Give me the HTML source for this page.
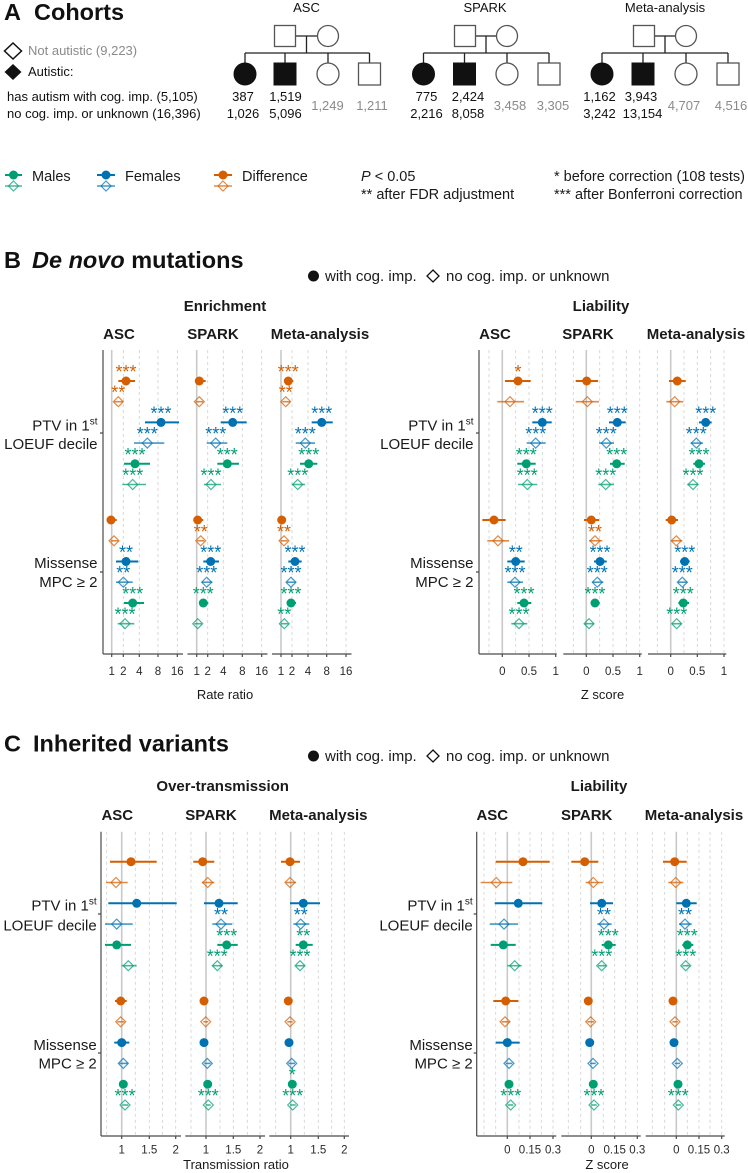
<!DOCTYPE html>
<html><head><meta charset="utf-8">
<style>
html,body{margin:0;padding:0;background:#fff;width:748px;height:1173px;overflow:hidden}
svg{display:block;font-family:"Liberation Sans",Arial,sans-serif}
.g0{stroke:#c9c9c9;stroke-width:1.6;fill:none}
.gd{stroke:#cfcfcf;stroke-width:.8;stroke-dasharray:3 3;fill:none}
.ax{stroke:#4a4a4a;stroke-width:1.2;fill:none}
.tk{font-size:11.5px;fill:#2a2a2a;text-anchor:middle}
.d{stroke:#D55E00;fill:#D55E00}
.f{stroke:#0072B2;fill:#0072B2}
.m{stroke:#009E73;fill:#009E73}
line{stroke-width:2}
circle{stroke-width:0}
.o line{stroke-width:1.6;opacity:.72}
.o path{fill:none;stroke-width:1.2;opacity:.72}
.s{font-size:18px;text-anchor:middle;stroke:none;transform:translateY(-5px)}
.ped{stroke:#222;stroke-width:1.3;fill:none}
.pedo{stroke:#555;stroke-width:1.3;fill:#fff}
.pedf{fill:#111;stroke:#111;stroke-width:1}
.num{font-size:13px;fill:#111;text-anchor:middle}
.gnum{font-size:13px;fill:#8a8a8a;text-anchor:middle}
.ttl{font-size:23.5px;font-weight:bold;fill:#111}
.hd{font-size:15px;font-weight:bold;fill:#1a1a1a;text-anchor:middle}
.yl{font-size:15px;fill:#1a1a1a;text-anchor:end}
.axt{font-size:13px;fill:#1a1a1a;text-anchor:middle}
.lg{font-size:14.5px;fill:#1a1a1a}
.lg15{font-size:15px;fill:#1a1a1a}
</style></head>
<body>
<svg width="748" height="1173" viewBox="0 0 748 1173" xmlns="http://www.w3.org/2000/svg">

<!-- ===== A: Cohorts ===== -->
<text class="ttl" x="4" y="20">A</text>
<text class="ttl" x="34" y="20">Cohorts</text>

<path d="M13 43l8.5 8-8.5 8-8.5-8z" fill="#fff" stroke="#111" stroke-width="1.5"/>
<text x="28" y="55" font-size="13px" fill="#8a8a8a">Not autistic (9,223)</text>
<path d="M13 64l8.5 8-8.5 8-8.5-8z" fill="#111"/>
<text x="28" y="76" font-size="13px" fill="#111">Autistic:</text>
<text x="7" y="101" font-size="13px" fill="#111">has autism with cog. imp. (5,105)</text>
<text x="7" y="118" font-size="13px" fill="#111">no cog. imp. or unknown (16,396)</text>

<!-- ASC pedigree -->
<text x="306.5" y="12" font-size="13px" fill="#111" text-anchor="middle">ASC</text>
<path class="ped" d="M296 36H317.5M306.5 36V53M245 53H369.5M245 53V63M285 53V63M328 53V63M369.5 53V63"/>
<rect class="pedo" x="274.5" y="25.5" width="21" height="21"/>
<circle class="pedo" cx="328" cy="36" r="10.5" style="stroke-width:1.3"/>
<circle class="pedf" cx="245" cy="74" r="11"/>
<rect class="pedf" x="274" y="63" width="22" height="22"/>
<circle class="pedo" cx="328" cy="74" r="11" style="stroke-width:1.3"/>
<rect class="pedo" x="358.5" y="63" width="22" height="22"/>
<text class="num" x="243" y="101">387</text>
<text class="num" x="285.5" y="101">1,519</text>
<text class="num" x="243" y="118">1,026</text>
<text class="num" x="285.5" y="118">5,096</text>
<text class="gnum" x="327.5" y="110">1,249</text>
<text class="gnum" x="372" y="110">1,211</text>

<!-- SPARK pedigree -->
<text x="485" y="12" font-size="13px" fill="#111" text-anchor="middle">SPARK</text>
<path class="ped" d="M475.5 36H496.5M486 36V53M423.5 53H549M423.5 53V63M464.5 53V63M507 53V63M549 53V63"/>
<rect class="pedo" x="454.5" y="25.5" width="21" height="21"/>
<circle class="pedo" cx="507" cy="36" r="10.5" style="stroke-width:1.3"/>
<circle class="pedf" cx="423.5" cy="74" r="11"/>
<rect class="pedf" x="453.5" y="63" width="22" height="22"/>
<circle class="pedo" cx="507" cy="74" r="11" style="stroke-width:1.3"/>
<rect class="pedo" x="538" y="63" width="22" height="22"/>
<text class="num" x="426.5" y="101">775</text>
<text class="num" x="468" y="101">2,424</text>
<text class="num" x="426.5" y="118">2,216</text>
<text class="num" x="468" y="118">8,058</text>
<text class="gnum" x="510" y="110">3,458</text>
<text class="gnum" x="553" y="110">3,305</text>

<!-- Meta pedigree -->
<text x="665" y="12" font-size="13px" fill="#111" text-anchor="middle">Meta-analysis</text>
<path class="ped" d="M654.5 36H675.5M665 36V53M602 53H728M602 53V63M643 53V63M686 53V63M728 53V63"/>
<rect class="pedo" x="633.5" y="25.5" width="21" height="21"/>
<circle class="pedo" cx="686" cy="36" r="10.5" style="stroke-width:1.3"/>
<circle class="pedf" cx="602" cy="74" r="11"/>
<rect class="pedf" x="632" y="63" width="22" height="22"/>
<circle class="pedo" cx="686" cy="74" r="11" style="stroke-width:1.3"/>
<rect class="pedo" x="717" y="63" width="22" height="22"/>
<text class="num" x="599.5" y="101">1,162</text>
<text class="num" x="641" y="101">3,943</text>
<text class="num" x="599.5" y="118">3,242</text>
<text class="num" x="642.5" y="118">13,154</text>
<text class="gnum" x="684" y="110">4,707</text>
<text class="gnum" x="731" y="110">4,516</text>

<!-- Legend row -->
<g class="m"><line x1="5" x2="22" y1="175" y2="175"/><circle cx="13.5" cy="175" r="4.5"/></g>
<g class="m o"><line x1="5" x2="22" y1="186" y2="186"/><path d="M13.5 181l5 5-5 5-5-5z"/></g>
<text class="lg" x="32" y="181">Males</text>
<g class="f"><line x1="97" x2="115" y1="175" y2="175"/><circle cx="106" cy="175" r="4.5"/></g>
<g class="f o"><line x1="97" x2="115" y1="186" y2="186"/><path d="M106 181l5 5-5 5-5-5z"/></g>
<text class="lg" x="125" y="181">Females</text>
<g class="d"><line x1="214" x2="232" y1="175" y2="175"/><circle cx="223" cy="175" r="4.5"/></g>
<g class="d o"><line x1="214" x2="232" y1="186" y2="186"/><path d="M223 181l5 5-5 5-5-5z"/></g>
<text class="lg" x="242" y="181">Difference</text>

<text class="lg" x="361" y="181"><tspan font-style="italic">P</tspan> &lt; 0.05</text>
<text class="lg" x="361" y="199">** after FDR adjustment</text>
<text class="lg" x="554" y="181">* before correction (108 tests)</text>
<text class="lg" x="554" y="199">*** after Bonferroni correction</text>

<!-- ===== B: De novo ===== -->
<text class="ttl" x="4" y="268">B</text>
<text class="ttl" x="32" y="268"><tspan font-style="italic">De novo</tspan> mutations</text>
<circle cx="313.5" cy="276" r="5.5" fill="#111"/>
<text class="lg15" x="325" y="281">with cog. imp.</text>
<path d="M433 270l6 6-6 6-6-6z" fill="none" stroke="#111" stroke-width="1.3"/>
<text class="lg15" x="446" y="281">no cog. imp. or unknown</text>

<text class="hd" x="225" y="311">Enrichment</text>
<text class="hd" x="601" y="311">Liability</text>
<text class="hd" x="119" y="339">ASC</text>
<text class="hd" x="213" y="339">SPARK</text>
<text class="hd" x="320" y="339">Meta-analysis</text>
<text class="hd" x="495" y="339">ASC</text>
<text class="hd" x="588" y="339">SPARK</text>
<text class="hd" x="696" y="339">Meta-analysis</text>

<!-- B left grid -->
<path class="g0" d="M111.7 350V654M196.7 350V654M281 350V654"/>
<path class="gd" d="M123.3 350V654M139.3 350V654M158 350V654M177.3 350V654M207.7 350V654M223.3 350V654M242.3 350V654M261.7 350V654M292 350V654M308 350V654M326.7 350V654M346 350V654"/>
<path class="ax" d="M103 350V654M103 654H183M187.5 654H267.5M272 654H351.5M100 433H103M100 572H103M111.7 654v3M123.3 654v3M139.3 654v3M158 654v3M177.3 654v3M196.7 654v3M207.7 654v3M223.3 654v3M242.3 654v3M261.7 654v3M281 654v3M292 654v3M308 654v3M326.7 654v3M346 654v3"/>
<g class="tk">
<text x="111.7" y="675">1</text><text x="123.3" y="675">2</text><text x="139.3" y="675">4</text><text x="158" y="675">8</text><text x="177.3" y="675">16</text>
<text x="196.7" y="675">1</text><text x="207.7" y="675">2</text><text x="223.3" y="675">4</text><text x="242.3" y="675">8</text><text x="261.7" y="675">16</text>
<text x="281" y="675">1</text><text x="292" y="675">2</text><text x="308" y="675">4</text><text x="326.7" y="675">8</text><text x="346" y="675">16</text>
</g>
<text class="axt" x="225" y="699">Rate ratio</text>
<text class="yl" x="97.5" y="430.7">PTV in 1<tspan font-size="10px" dy="-6">st</tspan></text>
<text class="yl" x="97.5" y="449">LOEUF decile</text>
<text class="yl" x="97.5" y="568">Missense</text>
<text class="yl" x="97.5" y="587">MPC ≥ 2</text>

<!-- B left data -->
<g transform="translate(0,381)" class="d"><line x1="118.3" x2="135"/><circle cx="126" r="4.5"/><text class="s" x="126" y="2">***</text><line x1="195" x2="205.7"/><circle cx="199.3" r="4.5"/><line x1="284.3" x2="293.3"/><circle cx="288.3" r="4.5"/><text class="s" x="288.3" y="2">***</text></g>
<g transform="translate(0,401.7)" class="d o"><line x1="114.3" x2="123.3"/><path d="M118.3 -5l5 5-5 5-5-5z"/><text class="s" x="118.3" y="2">**</text><line x1="195.7" x2="203.3"/><path d="M199.3 -5l5 5-5 5-5-5z"/><line x1="282.3" x2="290"/><path d="M285.7 -5l5 5-5 5-5-5z"/><text class="s" x="285.7" y="2">**</text></g>
<g transform="translate(0,422.4)" class="f"><line x1="145" x2="179"/><circle cx="161" r="4.5"/><text class="s" x="161" y="2">***</text><line x1="220.7" x2="246.7"/><circle cx="232.7" r="4.5"/><text class="s" x="232.7" y="2">***</text><line x1="311.7" x2="332.7"/><circle cx="321.7" r="4.5"/><text class="s" x="321.7" y="2">***</text></g>
<g transform="translate(0,443.1)" class="f o"><line x1="134" x2="164.3"/><path d="M147.3 -5l5 5-5 5-5-5z"/><text class="s" x="147.3" y="2">***</text><line x1="206.7" x2="227.3"/><path d="M215.7 -5l5 5-5 5-5-5z"/><text class="s" x="215.7" y="2">***</text><line x1="295.7" x2="315"/><path d="M305.3 -5l5 5-5 5-5-5z"/><text class="s" x="305.3" y="2">***</text></g>
<g transform="translate(0,463.8)" class="m"><line x1="124" x2="150"/><circle cx="135" r="4.5"/><text class="s" x="135" y="2">***</text><line x1="217.3" x2="239"/><circle cx="227.3" r="4.5"/><text class="s" x="227.3" y="2">***</text><line x1="300" x2="317.3"/><circle cx="308.7" r="4.5"/><text class="s" x="308.7" y="2">***</text></g>
<g transform="translate(0,484.5)" class="m o"><line x1="122.3" x2="146"/><path d="M132.7 -5l5 5-5 5-5-5z"/><text class="s" x="132.7" y="2">***</text><line x1="204" x2="221"/><path d="M211 -5l5 5-5 5-5-5z"/><text class="s" x="211" y="2">***</text><line x1="291.7" x2="305"/><path d="M297.7 -5l5 5-5 5-5-5z"/><text class="s" x="297.7" y="2">***</text></g>

<g transform="translate(0,520)" class="d"><line x1="106.7" x2="116.7"/><circle cx="111" r="4.5"/><line x1="194" x2="203.3"/><circle cx="197.7" r="4.5"/><line x1="278.3" x2="285"/><circle cx="281.7" r="4.5"/></g>
<g transform="translate(0,540.8)" class="d o"><line x1="110.7" x2="118.3"/><path d="M114 -5l5 5-5 5-5-5z"/><line x1="197.3" x2="204.3"/><path d="M200.7 -5l5 5-5 5-5-5z"/><text class="s" x="200.7" y="2">**</text><line x1="280.7" x2="287.7"/><path d="M284 -5l5 5-5 5-5-5z"/><text class="s" x="284" y="2">**</text></g>
<g transform="translate(0,561.5)" class="f"><line x1="116" x2="138.3"/><circle cx="126" r="4.5"/><text class="s" x="126" y="2">**</text><line x1="203.3" x2="219"/><circle cx="210.7" r="4.5"/><text class="s" x="210.7" y="2">***</text><line x1="288.3" x2="301.7"/><circle cx="295" r="4.5"/><text class="s" x="295" y="2">***</text></g>
<g transform="translate(0,582.2)" class="f o"><line x1="116" x2="132.7"/><path d="M123.3 -5l5 5-5 5-5-5z"/><text class="s" x="123.3" y="2">**</text><line x1="201.7" x2="212.3"/><path d="M206.7 -5l5 5-5 5-5-5z"/><text class="s" x="206.7" y="2">***</text><line x1="286.7" x2="295.7"/><path d="M291 -5l5 5-5 5-5-5z"/><text class="s" x="291" y="2">***</text></g>
<g transform="translate(0,603)" class="m"><line x1="124" x2="144"/><circle cx="132.7" r="4.5"/><text class="s" x="132.7" y="2">***</text><line x1="199.3" x2="208.3"/><circle cx="203.3" r="4.5"/><text class="s" x="203.3" y="2">***</text><line x1="286.7" x2="296"/><circle cx="291" r="4.5"/><text class="s" x="291" y="2">***</text></g>
<g transform="translate(0,623.7)" class="m o"><line x1="117.7" x2="134.3"/><path d="M125 -5l5 5-5 5-5-5z"/><text class="s" x="125" y="2">***</text><line x1="194.3" x2="201.7"/><path d="M197.7 -5l5 5-5 5-5-5z"/><line x1="281" x2="288.3"/><path d="M284.3 -5l5 5-5 5-5-5z"/><text class="s" x="284.3" y="2">**</text></g>

<!-- B right grid -->
<path class="g0" d="M502.3 350V654M586.3 350V654M670.7 350V654"/>
<path class="gd" d="M489 350V654M515.7 350V654M529 350V654M542.3 350V654M555.7 350V654M573.3 350V654M599.7 350V654M613 350V654M626.3 350V654M639.7 350V654M657.3 350V654M684 350V654M697.3 350V654M710.7 350V654M724 350V654"/>
<path class="ax" d="M479 350V654M479 654H556.7M563.3 654H641.7M648 654H726.3M476 433H479M476 572H479M502.3 654v3M529 654v3M555.7 654v3M586.3 654v3M613 654v3M639.7 654v3M670.7 654v3M697.3 654v3M724 654v3"/>
<g class="tk">
<text x="502.3" y="675">0</text><text x="529" y="675">0.5</text><text x="555.7" y="675">1</text>
<text x="586.3" y="675">0</text><text x="613" y="675">0.5</text><text x="639.7" y="675">1</text>
<text x="670.7" y="675">0</text><text x="697.3" y="675">0.5</text><text x="724" y="675">1</text>
</g>
<text class="axt" x="602.5" y="699">Z score</text>
<text class="yl" x="473.5" y="430.7">PTV in 1<tspan font-size="10px" dy="-6">st</tspan></text>
<text class="yl" x="473.5" y="449">LOEUF decile</text>
<text class="yl" x="473.5" y="568">Missense</text>
<text class="yl" x="473.5" y="587">MPC ≥ 2</text>

<!-- B right data -->
<g transform="translate(0,381)" class="d"><line x1="505" x2="530.7"/><circle cx="518" r="4.5"/><text class="s" x="518" y="2">*</text><line x1="575.7" x2="598"/><circle cx="586.7" r="4.5"/><line x1="669" x2="685.7"/><circle cx="677.3" r="4.5"/></g>
<g transform="translate(0,401.7)" class="d o"><line x1="497.3" x2="524"/><path d="M510 -5l5 5-5 5-5-5z"/><line x1="575.7" x2="599"/><path d="M587.3 -5l5 5-5 5-5-5z"/><line x1="666.3" x2="683.3"/><path d="M674.7 -5l5 5-5 5-5-5z"/></g>
<g transform="translate(0,422.4)" class="f"><line x1="532.3" x2="551.7"/><circle cx="542.3" r="4.5"/><text class="s" x="542.3" y="2">***</text><line x1="609" x2="625.7"/><circle cx="617.3" r="4.5"/><text class="s" x="617.3" y="2">***</text><line x1="699" x2="711.7"/><circle cx="705.7" r="4.5"/><text class="s" x="705.7" y="2">***</text></g>
<g transform="translate(0,443.1)" class="f o"><line x1="526.7" x2="545.7"/><path d="M535.7 -5l5 5-5 5-5-5z"/><text class="s" x="535.7" y="2">***</text><line x1="599" x2="614"/><path d="M606.3 -5l5 5-5 5-5-5z"/><text class="s" x="606.3" y="2">***</text><line x1="690.7" x2="703"/><path d="M696.3 -5l5 5-5 5-5-5z"/><text class="s" x="696.3" y="2">***</text></g>
<g transform="translate(0,463.8)" class="m"><line x1="517.3" x2="535.7"/><circle cx="526.3" r="4.5"/><text class="s" x="526.3" y="2">***</text><line x1="610" x2="624.7"/><circle cx="616.7" r="4.5"/><text class="s" x="616.7" y="2">***</text><line x1="693.3" x2="705"/><circle cx="699" r="4.5"/><text class="s" x="699" y="2">***</text></g>
<g transform="translate(0,484.5)" class="m o"><line x1="518" x2="537.3"/><path d="M527.3 -5l5 5-5 5-5-5z"/><text class="s" x="527.3" y="2">***</text><line x1="598.3" x2="614"/><path d="M605.7 -5l5 5-5 5-5-5z"/><text class="s" x="605.7" y="2">***</text><line x1="687.3" x2="698.3"/><path d="M693 -5l5 5-5 5-5-5z"/><text class="s" x="693" y="2">***</text></g>

<g transform="translate(0,520)" class="d"><line x1="482.3" x2="505.7"/><circle cx="494" r="4.5"/><line x1="584" x2="599"/><circle cx="591.3" r="4.5"/><line x1="665.7" x2="678"/><circle cx="671.7" r="4.5"/></g>
<g transform="translate(0,540.8)" class="d o"><line x1="487.3" x2="509"/><path d="M498 -5l5 5-5 5-5-5z"/><line x1="589" x2="602.3"/><path d="M595 -5l5 5-5 5-5-5z"/><text class="s" x="595" y="2">**</text><line x1="671.3" x2="682.3"/><path d="M676.3 -5l5 5-5 5-5-5z"/></g>
<g transform="translate(0,561.5)" class="f"><line x1="507.3" x2="524.7"/><circle cx="515.7" r="4.5"/><text class="s" x="515.7" y="2">**</text><line x1="594" x2="606.7"/><circle cx="600" r="4.5"/><text class="s" x="600" y="2">***</text><line x1="680" x2="689.7"/><circle cx="684.7" r="4.5"/><text class="s" x="684.7" y="2">***</text></g>
<g transform="translate(0,582.2)" class="f o"><line x1="507.3" x2="523"/><path d="M515 -5l5 5-5 5-5-5z"/><text class="s" x="515" y="2">***</text><line x1="592.3" x2="603.3"/><path d="M597.3 -5l5 5-5 5-5-5z"/><text class="s" x="597.3" y="2">***</text><line x1="678" x2="687.3"/><path d="M682.3 -5l5 5-5 5-5-5z"/><text class="s" x="682.3" y="2">***</text></g>
<g transform="translate(0,603)" class="m"><line x1="517.3" x2="531.3"/><circle cx="524" r="4.5"/><text class="s" x="524" y="2">***</text><line x1="591.3" x2="599.7"/><circle cx="595" r="4.5"/><text class="s" x="595" y="2">***</text><line x1="678.3" x2="689"/><circle cx="683.3" r="4.5"/><text class="s" x="683.3" y="2">***</text></g>
<g transform="translate(0,623.7)" class="m o"><line x1="511.3" x2="527.3"/><path d="M519 -5l5 5-5 5-5-5z"/><text class="s" x="519" y="2">***</text><line x1="584.7" x2="594"/><path d="M589 -5l5 5-5 5-5-5z"/><line x1="672.3" x2="681.3"/><path d="M676.7 -5l5 5-5 5-5-5z"/><text class="s" x="676.7" y="2">***</text></g>

<!-- ===== C: Inherited ===== -->
<text class="ttl" x="4" y="751.7">C</text>
<text class="ttl" x="33" y="751.7">Inherited variants</text>
<circle cx="313.5" cy="756" r="5.5" fill="#111"/>
<text class="lg15" x="325" y="761">with cog. imp.</text>
<path d="M433 750l6 6-6 6-6-6z" fill="none" stroke="#111" stroke-width="1.3"/>
<text class="lg15" x="446" y="761">no cog. imp. or unknown</text>

<text class="hd" x="222.7" y="791">Over-transmission</text>
<text class="hd" x="599" y="791">Liability</text>
<text class="hd" x="117.3" y="820">ASC</text>
<text class="hd" x="211" y="820">SPARK</text>
<text class="hd" x="318.3" y="820">Meta-analysis</text>
<text class="hd" x="492.3" y="820">ASC</text>
<text class="hd" x="586.7" y="820">SPARK</text>
<text class="hd" x="694" y="820">Meta-analysis</text>

<!-- C left grid -->
<path class="g0" d="M121.7 831.7V1136M206 831.7V1136M290.7 831.7V1136"/>
<path class="gd" d="M106.7 831.7V1136M135.3 831.7V1136M149.3 831.7V1136M162.5 831.7V1136M175.7 831.7V1136M191 831.7V1136M220 831.7V1136M233.3 831.7V1136M247.3 831.7V1136M260 831.7V1136M275.7 831.7V1136M304.3 831.7V1136M318.3 831.7V1136M331.7 831.7V1136M344.3 831.7V1136"/>
<path class="ax" d="M101 831.7V1136M101 1136H181M185.3 1136H265M269.3 1136H349M98 914H101M98 1053H101M121.7 1136v3M149.3 1136v3M175.7 1136v3M206 1136v3M233.3 1136v3M260 1136v3M290.7 1136v3M318.3 1136v3M344.3 1136v3"/>
<g class="tk">
<text x="121.7" y="1153.5">1</text><text x="149.3" y="1153.5">1.5</text><text x="175.7" y="1153.5">2</text>
<text x="206" y="1153.5">1</text><text x="233.3" y="1153.5">1.5</text><text x="260" y="1153.5">2</text>
<text x="290.7" y="1153.5">1</text><text x="318.3" y="1153.5">1.5</text><text x="344.3" y="1153.5">2</text>
</g>
<text class="axt" x="236" y="1169">Transmission ratio</text>
<text class="yl" x="96.7" y="910.7">PTV in 1<tspan font-size="10px" dy="-6">st</tspan></text>
<text class="yl" x="96.7" y="930.7">LOEUF decile</text>
<text class="yl" x="96.7" y="1050">Missense</text>
<text class="yl" x="96.7" y="1068.3">MPC ≥ 2</text>

<!-- C left data -->
<g transform="translate(0,861.7)" class="d"><line x1="110" x2="156.7"/><circle cx="131" r="4.5"/><line x1="193.3" x2="214.3"/><circle cx="202.7" r="4.5"/><line x1="281" x2="300"/><circle cx="290" r="4.5"/></g>
<g transform="translate(0,882.5)" class="d o"><line x1="106" x2="127.7"/><path d="M116 -5l5 5-5 5-5-5z"/><line x1="201.7" x2="214.3"/><path d="M207.7 -5l5 5-5 5-5-5z"/><line x1="285.7" x2="296"/><path d="M290 -5l5 5-5 5-5-5z"/></g>
<g transform="translate(0,903.3)" class="f"><line x1="108.3" x2="176.7"/><circle cx="136.7" r="4.5"/><line x1="204" x2="237.7"/><circle cx="219" r="4.5"/><line x1="290" x2="320"/><circle cx="303.3" r="4.5"/></g>
<g transform="translate(0,924.1)" class="f o"><line x1="105" x2="132.7"/><path d="M116.7 -5l5 5-5 5-5-5z"/><line x1="212.3" x2="232.3"/><path d="M221 -5l5 5-5 5-5-5z"/><text class="s" x="221" y="2">**</text><line x1="293.3" x2="309.3"/><path d="M300.7 -5l5 5-5 5-5-5z"/><text class="s" x="300.7" y="2">**</text></g>
<g transform="translate(0,944.9)" class="m"><line x1="105" x2="131"/><circle cx="116.7" r="4.5"/><line x1="217.3" x2="237.7"/><circle cx="226.7" r="4.5"/><text class="s" x="226.7" y="2">***</text><line x1="295.7" x2="312.7"/><circle cx="303.3" r="4.5"/><text class="s" x="303.3" y="2">**</text></g>
<g transform="translate(0,965.7)" class="m o"><line x1="121.7" x2="136.7"/><path d="M128.3 -5l5 5-5 5-5-5z"/><line x1="212.3" x2="222.3"/><path d="M217.3 -5l5 5-5 5-5-5z"/><text class="s" x="217.3" y="2">***</text><line x1="296" x2="304.3"/><path d="M300 -5l5 5-5 5-5-5z"/><text class="s" x="300" y="2">***</text></g>

<g transform="translate(0,1001)" class="d"><line x1="115" x2="126.7"/><circle cx="120.7" r="4.5"/><line x1="201.7" x2="206.7"/><circle cx="204" r="4.5"/><line x1="286" x2="291"/><circle cx="288.3" r="4.5"/></g>
<g transform="translate(0,1021.8)" class="d o"><line x1="117.3" x2="124.3"/><path d="M120.7 -5l5 5-5 5-5-5z"/><line x1="203.3" x2="208.3"/><path d="M205.7 -5l5 5-5 5-5-5z"/><line x1="287.3" x2="292.7"/><path d="M290 -5l5 5-5 5-5-5z"/></g>
<g transform="translate(0,1042.6)" class="f"><line x1="114.3" x2="129.3"/><circle cx="121.7" r="4.5"/><line x1="201.7" x2="206.7"/><circle cx="204" r="4.5"/><line x1="286.7" x2="291.7"/><circle cx="289" r="4.5"/></g>
<g transform="translate(0,1063.4)" class="f o"><line x1="119.3" x2="127.7"/><path d="M123.3 -5l5 5-5 5-5-5z"/><line x1="204.3" x2="210.7"/><path d="M207.3 -5l5 5-5 5-5-5z"/><line x1="288.3" x2="295"/><path d="M291.7 -5l5 5-5 5-5-5z"/></g>
<g transform="translate(0,1084.2)" class="m"><line x1="120" x2="127.3"/><circle cx="123.3" r="4.5"/><line x1="205.3" x2="210"/><circle cx="207.7" r="4.5"/><line x1="290" x2="295"/><circle cx="292.3" r="4.5"/><text class="s" x="292.3" y="2">*</text></g>
<g transform="translate(0,1105)" class="m o"><line x1="122.3" x2="128.3"/><path d="M125 -5l5 5-5 5-5-5z"/><text class="s" x="125" y="2">***</text><line x1="206" x2="210.7"/><path d="M208.3 -5l5 5-5 5-5-5z"/><text class="s" x="208.3" y="2">***</text><line x1="290" x2="295.7"/><path d="M292.7 -5l5 5-5 5-5-5z"/><text class="s" x="292.7" y="2">***</text></g>

<!-- C right grid -->
<path class="g0" d="M507.3 831.7V1136M591.3 831.7V1136M676.3 831.7V1136"/>
<path class="gd" d="M484 831.7V1136M495.7 831.7V1136M519 831.7V1136M530 831.7V1136M541.3 831.7V1136M553 831.7V1136M568.3 831.7V1136M580.7 831.7V1136M603.3 831.7V1136M614.7 831.7V1136M625.7 831.7V1136M637.3 831.7V1136M652.3 831.7V1136M664.7 831.7V1136M687.3 831.7V1136M699 831.7V1136M710 831.7V1136M721.7 831.7V1136"/>
<path class="ax" d="M476.7 831.7V1136M476.7 1136H556.3M561.3 1136H640.7M645.7 1136H724.7M473.7 914H476.7M473.7 1053H476.7M507.3 1136v3M530 1136v3M553 1136v3M591.3 1136v3M614.7 1136v3M637.3 1136v3M676.3 1136v3M699 1136v3M721.7 1136v3"/>
<g class="tk">
<text x="507.3" y="1153.5">0</text><text x="530" y="1153.5">0.15</text><text x="553" y="1153.5">0.3</text>
<text x="591.3" y="1153.5">0</text><text x="614.7" y="1153.5">0.15</text><text x="637.3" y="1153.5">0.3</text>
<text x="676.3" y="1153.5">0</text><text x="699" y="1153.5">0.15</text><text x="721.7" y="1153.5">0.3</text>
</g>
<text class="axt" x="607" y="1169">Z score</text>
<text class="yl" x="472.7" y="910.7">PTV in 1<tspan font-size="10px" dy="-6">st</tspan></text>
<text class="yl" x="472.7" y="930.7">LOEUF decile</text>
<text class="yl" x="472.7" y="1050">Missense</text>
<text class="yl" x="472.7" y="1068.3">MPC ≥ 2</text>

<!-- C right data -->
<g transform="translate(0,861.7)" class="d"><line x1="495.7" x2="549.7"/><circle cx="523" r="4.5"/><line x1="571.3" x2="598.3"/><circle cx="584.7" r="4.5"/><line x1="663" x2="686.7"/><circle cx="674.7" r="4.5"/></g>
<g transform="translate(0,882.5)" class="d o"><line x1="480.7" x2="512.3"/><path d="M496.3 -5l5 5-5 5-5-5z"/><line x1="585.7" x2="603"/><path d="M593.3 -5l5 5-5 5-5-5z"/><line x1="668.3" x2="683.3"/><path d="M675.7 -5l5 5-5 5-5-5z"/></g>
<g transform="translate(0,903.3)" class="f"><line x1="494.7" x2="542.3"/><circle cx="518.3" r="4.5"/><line x1="590" x2="613"/><circle cx="601.7" r="4.5"/><line x1="676.3" x2="696.7"/><circle cx="686.3" r="4.5"/></g>
<g transform="translate(0,924.1)" class="f o"><line x1="489.7" x2="518"/><path d="M504 -5l5 5-5 5-5-5z"/><line x1="597.3" x2="611.7"/><path d="M604 -5l5 5-5 5-5-5z"/><text class="s" x="604" y="2">**</text><line x1="679" x2="691.7"/><path d="M685 -5l5 5-5 5-5-5z"/><text class="s" x="685" y="2">**</text></g>
<g transform="translate(0,944.9)" class="m"><line x1="490.7" x2="515.7"/><circle cx="503.3" r="4.5"/><line x1="601.7" x2="615.7"/><circle cx="608.3" r="4.5"/><text class="s" x="608.3" y="2">***</text><line x1="682.3" x2="693.3"/><circle cx="687.3" r="4.5"/><text class="s" x="687.3" y="2">***</text></g>
<g transform="translate(0,965.7)" class="m o"><line x1="507.3" x2="521.7"/><path d="M514.7 -5l5 5-5 5-5-5z"/><line x1="598" x2="606.3"/><path d="M601.7 -5l5 5-5 5-5-5z"/><text class="s" x="601.7" y="2">***</text><line x1="682.3" x2="689.7"/><path d="M685.7 -5l5 5-5 5-5-5z"/><text class="s" x="685.7" y="2">***</text></g>

<g transform="translate(0,1001)" class="d"><line x1="493.3" x2="518.3"/><circle cx="505.7" r="4.5"/><line x1="586" x2="590.7"/><circle cx="588.3" r="4.5"/><line x1="670.7" x2="675.7"/><circle cx="673" r="4.5"/></g>
<g transform="translate(0,1021.8)" class="d o"><line x1="501.7" x2="509.7"/><path d="M505 -5l5 5-5 5-5-5z"/><line x1="587.3" x2="594"/><path d="M590.7 -5l5 5-5 5-5-5z"/><line x1="672.3" x2="678"/><path d="M675 -5l5 5-5 5-5-5z"/></g>
<g transform="translate(0,1042.6)" class="f"><line x1="495.7" x2="519.7"/><circle cx="507.3" r="4.5"/><line x1="587.3" x2="592.3"/><circle cx="589.7" r="4.5"/><line x1="671.7" x2="676.7"/><circle cx="674" r="4.5"/></g>
<g transform="translate(0,1063.4)" class="f o"><line x1="505.7" x2="512.3"/><path d="M509 -5l5 5-5 5-5-5z"/><line x1="590" x2="595.7"/><path d="M593 -5l5 5-5 5-5-5z"/><line x1="674.7" x2="680"/><path d="M677.3 -5l5 5-5 5-5-5z"/></g>
<g transform="translate(0,1084.2)" class="m"><line x1="506.7" x2="511.7"/><circle cx="509" r="4.5"/><line x1="590.7" x2="595.7"/><circle cx="593.3" r="4.5"/><line x1="675.7" x2="680.7"/><circle cx="678" r="4.5"/></g>
<g transform="translate(0,1105)" class="m o"><line x1="508" x2="513.3"/><path d="M510.7 -5l5 5-5 5-5-5z"/><text class="s" x="510.7" y="2">***</text><line x1="591.3" x2="596.7"/><path d="M594 -5l5 5-5 5-5-5z"/><text class="s" x="594" y="2">***</text><line x1="675.7" x2="681.3"/><path d="M678.3 -5l5 5-5 5-5-5z"/><text class="s" x="678.3" y="2">***</text></g>

</svg>
</body></html>
